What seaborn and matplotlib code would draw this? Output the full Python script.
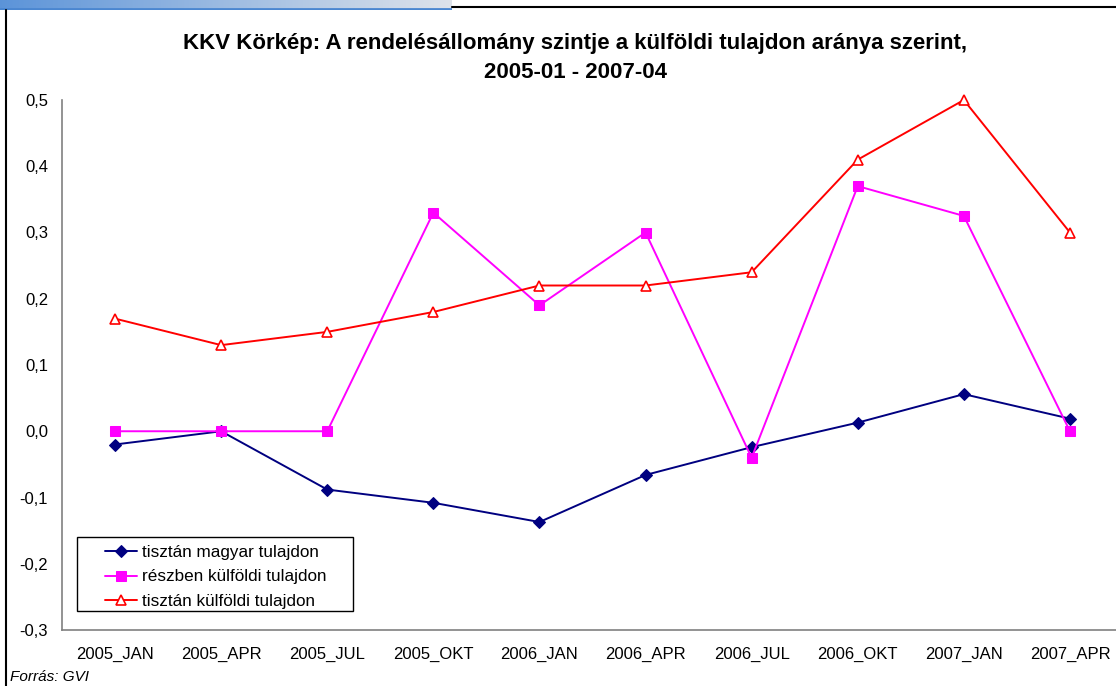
import numpy as np
import pandas as pd
import matplotlib
matplotlib.use("Agg")
import matplotlib.pyplot as plt
from matplotlib.lines import Line2D
from matplotlib.patches import Rectangle
import seaborn as sns

# ---- data ----
periods = ["2005_JAN", "2005_APR", "2005_JUL", "2005_OKT", "2006_JAN",
           "2006_APR", "2006_JUL", "2006_OKT", "2007_JAN", "2007_APR"]
magyar = [-0.02, 0.0, -0.088, -0.108, -0.137, -0.066, -0.024, 0.013, 0.056, 0.019]
reszben = [0.0, 0.0, 0.0, 0.33, 0.19, 0.30, -0.04, 0.37, 0.325, 0.0]
kulfoldi = [0.17, 0.13, 0.15, 0.18, 0.22, 0.22, 0.24, 0.41, 0.50, 0.30]

series_names = ["tisztán magyar tulajdon", "részben külföldi tulajdon", "tisztán külföldi tulajdon"]
y_ticks = [-0.3, -0.2, -0.1, 0.0, 0.1, 0.2, 0.3, 0.4, 0.5]

df = pd.DataFrame({"period": periods, series_names[0]: magyar,
                   series_names[1]: reszben, series_names[2]: kulfoldi})

sns.set_style("white")
plt.rcParams["font.family"] = ["Liberation Sans", "DejaVu Sans"]
plt.rcParams["text.color"] = "black"
plt.rcParams["xtick.color"] = "black"
plt.rcParams["ytick.color"] = "black"

W, H = 1116, 686
fig = plt.figure(figsize=(W / 100, H / 100), dpi=100)
ax = fig.add_axes([62 / W, 56 / H, (1123 - 62) / W, 530 / H])

styles = [
    dict(color="#000080", marker="D", markersize=6.5, markerfacecolor="#000080", markeredgecolor="#000080"),
    dict(color="#FF00FF", marker="s", markersize=7.5, markerfacecolor="#FF00FF", markeredgecolor="#FF00FF"),
    dict(color="#FF0000", marker="^", markersize=7.5, markerfacecolor="white", markeredgecolor="#FF0000",
         markeredgewidth=1.2),
]
for name, st in zip(series_names, styles):
    sns.lineplot(data=df, x="period", y=name, ax=ax, linewidth=1.4, label=name, clip_on=False, **st)

ax.set_xlim(-0.5, len(periods) - 0.5)
ax.set_ylim(-0.3, 0.5)
ax.set_yticks(y_ticks)
ax.set_yticklabels([f"{v:.1f}".replace(".", ",") for v in y_ticks], fontsize=12)
ax.set_xticks(range(len(periods)))
ax.set_xticklabels(periods, fontsize=12)
ax.set_xticks(np.arange(-0.5, len(periods)), minor=True)
ax.tick_params(axis="x", which="major", length=0, pad=12, colors="black")
ax.tick_params(axis="x", which="minor", length=5, color="#808080", width=1)
ax.tick_params(axis="y", length=5, color="#808080", labelcolor="black", width=1, pad=5)
ax.set_xlabel("")
ax.set_ylabel("")
for side in ["top", "right"]:
    ax.spines[side].set_visible(False)
for side in ["left", "bottom"]:
    ax.spines[side].set_color("#808080")
    ax.spines[side].set_linewidth(1.2)

# Excel-like legend: wide box with generous padding
fig.add_artist(Rectangle((77 / W, 1 - 611 / H), (353 - 77) / W, (611 - 537) / H,
                         transform=fig.transFigure, facecolor="white", edgecolor="black", lw=1.0, zorder=5))
leg = ax.legend(loc="center left", bbox_to_anchor=(105 / W, 1 - 577 / H), bbox_transform=fig.transFigure,
                fontsize=12.3, frameon=False, handlelength=1.9, handletextpad=0.25,
                borderpad=0, labelspacing=0.55, borderaxespad=0)
leg.set_zorder(6)
leg.remove()
fig.add_artist(leg)

fig.text(575 / W, 1 - 58 / H, "KKV Körkép: A rendelésállomány szintje a külföldi tulajdon aránya szerint,\n2005-01 - 2007-04",
         ha="center", va="center", fontsize=16, fontweight="bold", linespacing=1.5)
fig.text(10 / W, 1 - 677 / H, "Forrás: GVI", ha="left", va="center", fontsize=11, style="italic")

# decorative frame of the original export
grad = fig.add_axes([0, 1 - 10 / H, 452 / W, 10 / H])
g = np.linspace(0, 1, 256)
c0 = np.array([0.36, 0.58, 0.85])
c1 = np.array([0.87, 0.89, 0.92])
img = (c0[None, :] * (1 - g[:, None]) + c1[None, :] * g[:, None])[None, :, :]
grad.imshow(img, aspect="auto", extent=[0, 1, 0, 1])
grad.axhline(0.1, color="#4A86D0", lw=2)
grad.set_axis_off()
fig.add_artist(Line2D([452 / W, 1], [1 - 7 / H, 1 - 7 / H], color="black", lw=1.5, transform=fig.transFigure))
fig.add_artist(Line2D([6 / W, 6 / W], [0, 1 - 10 / H], color="black", lw=1.5, transform=fig.transFigure))

fig.savefig("out.png", dpi=100)
